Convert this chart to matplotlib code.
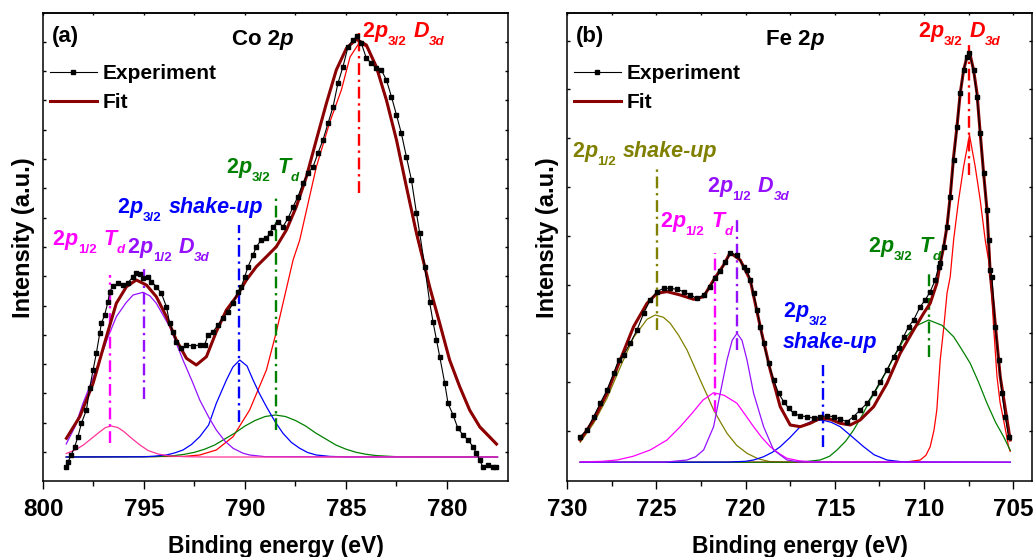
import numpy as np
import matplotlib.pyplot as plt
from matplotlib import transforms

plt.rcParams['font.family'] = 'Liberation Sans'
plt.rcParams['font.weight'] = 'bold'

# ---------------- Co 2p (panel a) ----------------
co_exp_e = [798.84, 798.76, 798.6, 798.43, 798.27, 798.1, 797.85, 797.69, 797.52, 797.36, 797.19, 797.11,
            796.95, 796.78, 796.70, 796.53, 796.29, 796.04, 795.79, 795.54, 795.38, 795.21, 795.05, 794.80,
            794.63, 794.39, 794.14, 793.89, 793.73, 793.56, 793.40, 793.15, 792.90, 792.57, 792.24, 792.0,
            791.83, 791.58, 791.34, 791.09, 790.84, 790.59, 790.35, 790.18, 790.01, 789.85, 789.60, 789.44,
            789.19, 788.94, 788.78, 788.61, 788.37, 788.12, 787.87, 787.62, 787.38, 787.13, 786.88, 786.63,
            786.39, 786.14, 785.89, 785.64, 785.40, 785.15, 784.90, 784.65, 784.45, 784.24, 783.99, 783.74,
            783.50, 783.25, 783.00, 782.75, 782.50, 782.26, 782.01, 781.76, 781.51, 781.35, 781.10, 780.86,
            780.69, 780.52, 780.36, 780.11, 779.95, 779.70, 779.46, 779.21, 778.96, 778.71, 778.54, 778.38,
            778.22, 777.97, 777.72, 777.55]
co_exp_i = [-10.3, -4.7, 2, 10.3, 20.3, 33.7, 47, 68.7, 87, 103.7, 123.7, 133.7,
            142, 155.3, 165.3, 171, 173.7, 172, 174.3, 180.3, 184.3, 183, 178.7, 179.7,
            175.3, 170.3, 163.7, 150.3, 133.7, 125.3, 115.3, 108.7, 112, 111, 112, 112,
            122, 125.3, 132, 138.7, 145.3, 153.7, 165.3, 170.3, 180.3, 190.3, 202, 210.3,
            217, 218.7, 223.7, 230.3, 235.3, 230.3, 238.7, 250.3, 260.3, 273.7, 283.7, 290.3,
            303.7, 317, 333.7, 350.3, 373.7, 390.3, 410.3, 417, 421, 413.7, 398.7, 393.7,
            388.7, 387, 377, 360.3, 342, 323.7, 300.3, 277, 243.7, 223.7, 190, 155,
            135, 117, 100.3, 73.7, 53.7, 42, 28.7, 22, 17, 10.3, 3.7, -3,
            -10.3, -8, -10.3, -10.3]

co_fit_e = [798.84, 798.18, 797.52, 796.86, 796.37, 795.87, 795.38, 794.88, 794.39, 793.89, 793.40, 792.90,
            792.41, 791.91, 791.42, 790.92, 790.43, 789.93, 789.44, 788.94, 788.45, 787.95, 787.46, 786.96,
            786.47, 785.97, 785.48, 784.98, 784.49, 783.99, 783.50, 783.00, 782.50, 782.01, 781.51, 781.10,
            780.86, 780.36, 779.87, 779.37, 778.88, 778.38, 777.55]
co_fit_i = [18.7, 40.3, 73.7, 120.3, 153.7, 170.3, 177, 172, 160.3, 140.3, 117, 98.7,
            92, 100.3, 125.3, 147, 160.3, 177, 190.3, 200.3, 210.3, 227, 250.3, 280.3,
            317, 353.7, 387, 408.7, 417.7, 412, 390.3, 357, 317, 270.3, 223.7, 190.3,
            170.3, 133.7, 97, 70.3, 47, 30.3, 13]

# fitted components: 2p1/2 Td, 2p1/2 D3d, 2p3/2 shake-up, 2p3/2 Td, 2p3/2 D3d
co_c1_e = [798.85, 798.4, 798.0, 797.6, 797.2, 796.9, 796.62, 796.3, 796.0, 795.6, 795.2, 794.8, 794.3,
           793.8, 793.0, 792.0, 777.5]
co_c1_i = [3.5, 7, 12, 18.5, 25, 29.5, 31, 29.5, 25.5, 18.5, 12, 6.5, 3, 1.2, 0.3, 0, 0]
co_c2_e = [798.85, 798.4, 798.02, 797.6, 797.19, 796.8, 796.37, 795.9, 795.54, 795.05, 794.7, 794.39,
           793.73, 793.07, 792.6, 792.24, 791.8, 791.42, 791.0, 790.59, 790.1, 789.77, 789.0, 777.5]
co_c2_i = [13, 31, 53.7, 75, 97, 119, 140.3, 154, 162, 164.7, 161, 153.7,
           130.3, 97, 75, 57, 40, 27, 16, 8.7, 3.8, 2, 0.3, 0]
co_c3_e = [798.85, 795.0, 794.5, 793.89, 793.5, 793.07, 792.65, 792.24, 791.8, 791.42, 790.92, 790.6,
           790.26, 789.9, 789.6, 789.3, 788.94, 788.5, 788.12, 787.7, 787.29, 786.9, 786.47, 785.8, 785.0, 777.5]
co_c3_i = [0, 0.2, 0.8, 2, 4, 7, 12.5, 20.3, 32, 53.7, 77, 90,
           97, 91, 77, 64, 50.3, 35, 23.7, 14.5, 8.7, 4.5, 2, 0.6, 0.1, 0]
co_c4_e = [798.85, 794.5, 793.5, 793.0, 792.5, 792.0, 791.5, 791.0, 790.5, 790.0, 789.5, 789.0, 788.5,
           788.0, 787.5, 787.0, 786.5, 786.0, 785.5, 785.0, 784.5, 784.0, 783.5, 782.5, 777.5]
co_c4_i = [0, 0.3, 1.4, 2.7, 4.7, 7.8, 12, 18, 24, 31, 36.5, 40.5, 42,
           40.5, 36.5, 31, 24, 18, 12, 7.8, 4.7, 2.7, 1.4, 0.3, 0]
co_c5_e = [798.85, 793.0, 792.24, 791.42, 790.59, 789.77, 788.94, 788.45, 787.62, 787.29, 786.47, 785.8,
           785.23, 784.8, 784.35, 783.99, 783.50, 783.00, 782.50, 782.01, 781.51, 780.86, 780.36, 779.87,
           779.37, 778.88, 778.38, 777.55]
co_c5_i = [0, 0.6, 2, 7, 20.3, 47, 87, 125, 197, 217, 290, 335,
           367, 400, 414, 410, 389, 356, 316, 269, 222, 169, 132, 96,
           69, 46, 29, 12]

co_mark_e = [796.7, 795.02, 790.3, 788.48, 784.36]
co_mark_top = [182, 192, 232, 261, 424]
co_mark_bot = [13.7, 57.7, 35.3, 27, 264.3]

# ---------------- Fe 2p (panel b) ----------------
fe_exp_e = [729.26, 728.88, 728.51, 728.14, 727.76, 727.39, 727.11, 726.83, 726.46, 726.08, 725.71, 725.34,
            724.96, 724.59, 724.22, 723.84, 723.47, 723.10, 722.72, 722.35, 721.98, 721.70, 721.42, 721.14,
            720.86, 720.48, 720.11, 719.92, 719.74, 719.55, 719.36, 719.18, 718.99, 718.71, 718.43, 718.15,
            717.87, 717.59, 717.31, 716.94, 716.56, 716.19, 715.82, 715.44, 715.07, 714.70, 714.32, 713.95,
            713.58, 713.20, 712.83, 712.46, 712.08, 711.71, 711.43, 711.15, 710.87, 710.59, 710.22, 709.94,
            709.66, 709.38, 709.19, 709.10, 708.91, 708.72, 708.54, 708.35, 708.16, 707.98, 707.79, 707.60,
            707.46, 707.23, 707.04, 706.86, 706.67, 706.48, 706.39, 706.30, 706.20, 706.02, 705.83, 705.64,
            705.46, 705.27]
fe_exp_i = [25.7, 32.3, 45.7, 59, 72.3, 89, 102.3, 107.3, 119, 132.3, 149, 162.3,
            170.7, 174, 174, 173, 170.7, 167.3, 164, 167.3, 175.7, 184, 191, 200,
            209, 207.3, 195.7, 192.3, 182.3, 169, 152.3, 135.7, 119, 99, 82.3, 69,
            60.7, 54, 49, 46.3, 45.7, 44, 45.7, 46.3, 45.7, 43, 40.7, 45.7,
            52.3, 59, 69, 80.7, 92.3, 105.7, 114, 125.7, 135.7, 142.3, 155.7, 162.3,
            170.7, 182.3, 195.7, 199, 215.6, 235.6, 265.6, 302.3, 335.6, 369, 392.3, 405.6,
            409, 392.3, 365.6, 329, 289, 252.3, 222.3, 192.3, 185.6, 135.6, 102.3, 69,
            45.6, 25.6]

fe_fit_e = [729.26, 728.51, 727.76, 727.02, 726.27, 725.52, 724.96, 724.40, 723.66, 722.91, 722.35, 721.79,
            721.23, 720.86, 720.30, 719.74, 719.18, 718.62, 718.06, 717.50, 716.94, 716.38, 715.82, 715.25,
            714.70, 714.14, 713.58, 712.83, 712.08, 711.34, 710.59, 710.03, 709.66, 709.29, 709.10, 708.91,
            708.72, 708.54, 708.35, 708.16, 707.98, 707.79, 707.60, 707.42, 707.23, 707.04, 706.86, 706.67,
            706.48, 706.30, 706.11, 705.74, 705.18]
fe_fit_i = [22.3, 42.3, 69, 102.3, 135.7, 159, 169, 170.7, 167.3, 163, 165.6, 182.3,
            197.3, 209.6, 202.3, 182.3, 135.7, 92.3, 55.6, 37.3, 35.6, 39, 44, 43,
            39, 37.3, 42.3, 55.6, 79, 109, 132.3, 149, 159, 179, 199, 215,
            236, 266, 305.6, 336, 369, 392, 405.6, 407.3, 392, 369, 329, 289,
            252, 189, 155.6, 85.6, 22.3]

# components: 2p1/2 shake-up, 2p1/2 Td, 2p1/2 D3d, 2p3/2 shake-up, 2p3/2 Td, 2p3/2 D3d
fe_c1_e = [729.26, 728.51, 727.76, 727.02, 726.27, 725.52, 725.06, 724.6, 724.22, 723.75, 723.28, 722.9,
           722.54, 722.15, 721.79, 721.4, 721.04, 720.5, 719.92, 719.3, 718.62, 717.5, 705.18]
fe_c1_i = [20, 39, 64, 95, 125, 143, 147.3, 145, 139, 127, 112.3, 97,
           82.3, 67, 52.3, 40, 29, 17, 9, 3.5, 0.6, 0, 0]
fe_c2_e = [729.26, 728.0, 727.2, 726.3, 725.34, 724.4, 723.66, 723.0, 722.4, 721.79, 721.2, 720.48,
           720.0, 719.55, 719.1, 718.62, 718.1, 717.68, 717.0, 716.2, 705.18]
fe_c2_i = [0.3, 1, 2.3, 6, 12.3, 22.3, 35.6, 49, 62, 69.6, 67, 59,
           47, 35.6, 25, 15.6, 8.5, 4, 1.5, 0.3, 0]
fe_c3_e = [729.26, 724.5, 723.28, 722.8, 722.35, 721.79, 721.42, 721.04, 720.75, 720.48, 720.2, 719.92,
           719.55, 718.99, 718.43, 717.68, 717.0, 705.18]
fe_c3_i = [0, 0.2, 2.3, 5.5, 12.3, 35.6, 69, 102.3, 122, 129, 122, 102.3,
           69, 35.6, 12.3, 2.3, 0.3, 0]
fe_c4_e = [729.26, 721.0, 720.0, 719.55, 719.0, 718.5, 718.06, 717.5, 716.94, 716.3, 715.72, 715.2,
           714.70, 714.0, 713.39, 712.8, 712.08, 711.2, 705.18]
fe_c4_i = [0, 0.2, 1, 2.3, 5.5, 10, 15.6, 25, 35.6, 41, 42.3, 40,
           35.6, 25, 15.6, 7.5, 2.3, 0.4, 0]
fe_c5_e = [729.26, 717.5, 716.6, 715.82, 715.3, 714.88, 714.4, 713.95, 713.5, 713.02, 712.5, 712.08,
           711.6, 711.15, 710.5, 709.75, 709.0, 708.35, 707.9, 707.42, 706.95, 706.48, 706.0, 705.55, 705.18]
fe_c5_i = [0, 0.1, 0.8, 2.3, 6, 12.3, 21, 32.3, 46, 62.3, 78, 92.3,
           108, 122.3, 136, 142.3, 137, 125.6, 113, 99, 80, 59, 40, 25.6, 12]
fe_c6_e = [729.26, 711.0, 710.22, 709.9, 709.66, 709.45, 709.29, 709.10, 708.9, 708.72, 708.54, 708.35,
           708.07, 707.79, 707.46, 707.14, 706.86, 706.58, 706.30, 706.11, 705.92, 705.75, 705.55, 705.27, 705.18]
fe_c6_i = [0, 0.3, 2.3, 7, 15.6, 32, 52.3, 102.3, 135, 169, 185.6, 222.3,
           262.3, 295.6, 327.3, 295.6, 262.3, 222.3, 192.3, 135.6, 85.6, 60, 42.3, 15.6, 11]

fe_mark_e = [724.96, 721.7, 720.48, 715.67, 709.75, 707.46]
fe_mark_top = [295.6, 209, 245.6, 97.3, 189, 419]
fe_mark_bot = [132.3, 50.6, 112.3, 15.6, 105.6, 287.3]

MAG = '#FF00FF'
PUR = '#9410FF'
BLU = '#0000FF'
GRN = '#008000'
RED = '#FF0000'
OLV = '#808000'
FITC = '#8B0000'

# drawn in this order, last one ends up on top of the shared baseline
co_comps = [(co_c5_e, co_c5_i, RED), (co_c4_e, co_c4_i, GRN), (co_c3_e, co_c3_i, BLU),
            (co_c2_e, co_c2_i, PUR), (co_c1_e, co_c1_i, '#FF3399')]
fe_comps = [(fe_c1_e, fe_c1_i, OLV), (fe_c6_e, fe_c6_i, RED), (fe_c5_e, fe_c5_i, GRN),
            (fe_c4_e, fe_c4_i, BLU), (fe_c2_e, fe_c2_i, MAG), (fe_c3_e, fe_c3_i, PUR)]
co_mark_col = [MAG, PUR, BLU, GRN, RED]
fe_mark_col = [OLV, MAG, PUR, BLU, GRN, RED]


def p_part(sub):
    return [('2', 'n'), ('p', 'i'), (sub, 's')]


TD = [(None, 'gap'), ('T', 'i'), ('d', 'si')]
D3D = [(None, 'gap'), ('D', 'i'), ('3d', 'si')]
SHK = [(None, 'gap'), ('shake-up', 'i')]

co_labels = [(p_part('1/2') + TD, 799.52, 212, MAG), (p_part('1/2') + D3D, 795.81, 203.7, PUR),
             (p_part('3/2') + SHK, 796.3, 243.7, BLU), (p_part('3/2') + TD, 790.91, 283.7, GRN),
             (p_part('3/2') + D3D, 784.18, 420.3, RED)]
fe_labels = [(p_part('1/2') + SHK, 729.72, 305.6, OLV), (p_part('1/2') + D3D, 722.16, 270.6, PUR),
             (p_part('1/2') + TD, 724.78, 235.6, MAG), (p_part('3/2') + TD, 713.13, 210.6, GRN),
             (p_part('3/2') + D3D, 710.33, 425.6, RED), (p_part('3/2'), 717.89, 145.6, BLU),
             ([('shake-up', 'i')], 717.89, 114, BLU)]

dashdot = (0, (5, 2, 1, 2))


def rich(ax, x, y, parts, color, size=15.5, trans=None):
    # write a label piece by piece so subscripts can be smaller and lower
    fig = ax.figure
    r = fig.canvas.get_renderer()
    if trans is None:
        trans = ax.transData
    px = size * fig.dpi / 72
    dx = 0
    for s, kind in parts:
        if kind == 'gap':
            dx += 0.33 * px
            continue
        sub = kind.startswith('s')
        fs = size * 0.62 if sub else size
        dy = -0.38 * px if sub else 0
        tr = transforms.offset_copy(trans, fig=fig, x=dx, y=dy, units='dots')
        t = ax.text(x, y, s, transform=tr, color=color, fontsize=fs, fontweight='bold',
                    fontstyle='italic' if kind.endswith('i') else 'normal', va='baseline', ha='left')
        dx += t.get_window_extent(r).width


def panel(ax, exp_e, exp_i, fit_e, fit_i, comps, mark_e, mark_top, mark_bot, mark_col,
          labels, xlim, ylim, xmajor, ystep, ystart, tag, title, title_x):
    for e, i, c in comps:
        ax.plot(e, i, color=c, lw=0.9)
    for e, t, b, c in zip(mark_e, mark_top, mark_bot, mark_col):
        ax.plot([e, e], [b, t], color=c, lw=1.7, linestyle=dashdot)
    fl, = ax.plot(fit_e, fit_i, color=FITC, lw=2.2)
    el, = ax.plot(exp_e, exp_i, color='black', lw=0.8, marker='s', ms=2.6, mec='black', mfc='black')

    ax.set_xlim(*xlim)
    ax.set_ylim(*ylim)
    ax.set_xticks(xmajor)
    ax.set_xticks(np.arange(xmajor[0], xmajor[-1] - 0.1, -2.5), minor=True)
    ax.set_yticks(np.arange(ystart, ylim[1], ystep))
    ax.tick_params(axis='x', which='major', direction='out', length=6, width=1, labelsize=17.5, pad=6)
    ax.tick_params(axis='x', which='minor', direction='out', length=3.5, width=1)
    ax.tick_params(axis='y', which='both', direction='in', length=2.5, width=1, left=True, right=True,
                   labelleft=False)
    sec = ax.secondary_xaxis('top')
    sec.set_xticks(xmajor)
    sec.set_xticks(np.arange(xmajor[0], xmajor[-1] - 0.1, -2.5), minor=True)
    sec.tick_params(axis='x', which='both', direction='in', length=1.5, width=1, labeltop=False)
    for sp in list(ax.spines.values()) + [sec.spines['top']]:
        sp.set_linewidth(1.1)
    ax.set_xlabel('Binding energy (eV)', fontsize=16.5, fontweight='bold', labelpad=10)
    ax.set_ylabel('Intensity (a.u.)', fontsize=17, fontweight='bold')
    ax.yaxis.set_label_coords(-0.018, 0.52)

    for parts, x, y, c in labels:
        rich(ax, x, y, parts, c)
    ax.text(0.019, 0.939, tag, transform=ax.transAxes, fontsize=16, fontweight='bold', va='baseline')
    rich(ax, title_x, 0.932, title, 'black', size=16, trans=ax.transAxes)
    ax.legend([el, fl], ['Experiment', 'Fit'], loc='upper left', bbox_to_anchor=(0.015, 0.89),
              frameon=False, fontsize=15, handlelength=2.25, handletextpad=0.3, labelspacing=0.45,
              borderpad=0, borderaxespad=0, numpoints=1)


fig = plt.figure(figsize=(10.33, 5.57), dpi=100)
ax1 = fig.add_axes([43 / 1033, 1 - 481 / 557, 465 / 1033, 468 / 557])
ax2 = fig.add_axes([567 / 1033, 1 - 481 / 557, 465 / 1033, 468 / 557])

panel(ax1, co_exp_e, co_exp_i, co_fit_e, co_fit_i, co_comps, co_mark_e, co_mark_top, co_mark_bot,
      co_mark_col, co_labels, (800, 776.98), (-24, 444), [800, 795, 790, 785, 780], 29.3, 5,
      '(a)', [('Co 2', 'n'), ('p', 'i')], 0.406)
panel(ax2, fe_exp_e, fe_exp_i, fe_fit_e, fe_fit_i, fe_comps, fe_mark_e, fe_mark_top, fe_mark_bot,
      fe_mark_col, fe_labels, (730, 703.96), (-18.7, 449.3), [730, 725, 720, 715, 710, 705], 48.8, 31.3,
      '(b)', [('Fe 2', 'n'), ('p', 'i')], 0.428)

fig.savefig('out.png', dpi=100)
